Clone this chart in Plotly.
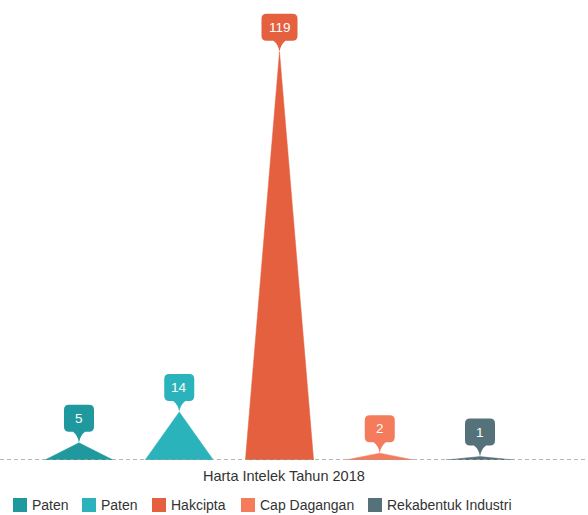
import plotly.graph_objects as go

# Harta Intelek 2018 — jumlah mengikut jenis
categories = ["Paten", "Paten", "Hakcipta", "Cap Dagangan", "Rekabentuk Industri"]
values = [5, 14, 119, 2, 1]
colors = ["#1f989e", "#2ab3ba", "#e4603f", "#f47b5b", "#55717a"]
axis_title = "Harta Intelek Tahun 2018"

W, H = 588, 515
MB = 55                 # bottom margin (title + legend live here)
PLOT_H = H - MB
HALF = 0.34             # half base width of each spike, in category units
X0_PX, STEP_PX = 79, 100.25
UNIT_PX = 3.43          # pixels per count on the value axis
STEM, BOX_H = 11, 27    # callout pointer length and box height (px)

fig = go.Figure()

# spikes: filled triangles rising from the baseline to each value
for i, (name, v, c) in enumerate(zip(categories, values, colors)):
    fig.add_trace(go.Scatter(
        x=[i - HALF, i, i + HALF, i - HALF],
        y=[0, v, 0, 0],
        mode="lines", fill="toself",
        fillcolor=c, line=dict(color=c, width=0.5),
        name=name, showlegend=False, hoverinfo="skip",
    ))


def pin_path(w, h=BOX_H, stem=STEM, r=5):
    """Rounded callout box with a small pointer; origin at the pointer tip."""
    a = w / 2
    b, t = stem, stem + h
    return (f"M0,0 Q-1,{stem*0.65} -6,{b} L{-a+r},{b} Q{-a},{b} {-a},{b+r} "
            f"L{-a},{t-r} Q{-a},{t} {-a+r},{t} L{a-r},{t} Q{a},{t} {a},{t-r} "
            f"L{a},{b+r} Q{a},{b} {a-r},{b} L6,{b} Q1,{stem*0.65} 0,0 Z")


shapes = []
annotations = []
for i, (v, c) in enumerate(zip(values, colors)):
    w = 36 if v >= 100 else 30
    shapes.append(dict(
        type="path", xref="x", yref="y",
        xsizemode="pixel", ysizemode="pixel",
        xanchor=i, yanchor=v, path=pin_path(w),
        fillcolor=c, line=dict(width=0), layer="above",
    ))
    annotations.append(dict(
        x=i, y=v, xref="x", yref="y", text=str(v), showarrow=False,
        yshift=STEM + BOX_H / 2, xanchor="center", yanchor="middle",
        font=dict(family="Liberation Sans, Arial, sans-serif", size=13.5, color="white"),
    ))

# dashed baseline across the full width
shapes.append(dict(
    type="line", xref="paper", yref="y", x0=0, x1=1, y0=0, y1=0,
    line=dict(color="#a0a0a0", width=1.5, dash="4px,3px"), layer="above",
))

# axis name under the baseline
annotations.append(dict(
    x=284 / W, y=-(476 - PLOT_H) / PLOT_H, xref="paper", yref="paper",
    text=axis_title, showarrow=False, xanchor="center", yanchor="middle",
    font=dict(family="Liberation Sans, Arial, sans-serif", size=14.5, color="#333333"),
))

# legend row: square swatch + label
legend_x = [13, 82, 152, 241, 368]
SW = 14
ly = 505
for name, c, lx in zip(categories, colors, legend_x):
    shapes.append(dict(
        type="rect", xref="paper", yref="paper",
        x0=lx / W, x1=(lx + SW) / W,
        y0=(PLOT_H - ly - SW / 2) / PLOT_H, y1=(PLOT_H - ly + SW / 2) / PLOT_H,
        fillcolor=c, line=dict(width=0),
    ))
    annotations.append(dict(
        x=(lx + SW + 3) / W, y=(PLOT_H - ly) / PLOT_H, xref="paper", yref="paper",
        text=name, showarrow=False, xanchor="left", yanchor="middle",
        font=dict(family="Liberation Sans, Arial, sans-serif", size=14, color="#333333"),
    ))

fig.update_layout(
    width=W, height=H,
    margin=dict(l=0, r=0, t=0, b=MB),
    paper_bgcolor="white", plot_bgcolor="white",
    xaxis=dict(range=[-X0_PX / STEP_PX, (W - X0_PX) / STEP_PX],
               visible=False, fixedrange=True),
    yaxis=dict(range=[0, PLOT_H / UNIT_PX], visible=False, fixedrange=True),
    shapes=shapes, annotations=annotations,
    showlegend=False,
)

fig.write_html("out.html")
